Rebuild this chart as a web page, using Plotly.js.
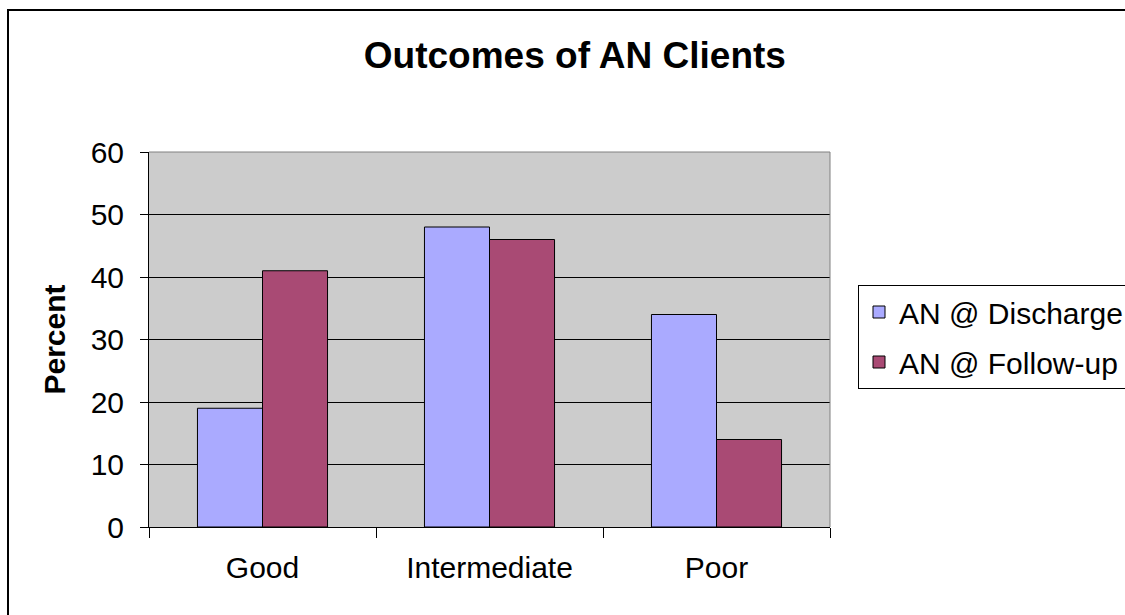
<!DOCTYPE html>
<html>
<head>
<meta charset="utf-8">
<script src="https://cdn.plot.ly/plotly-3.0.1.min.js"></script>
<style>
html, body { margin: 0; padding: 0; background: #ffffff; }
#chart { width: 1125px; height: 615px; }
</style>
</head>
<body>
<div id="chart"></div>
<script>
const categories = ["Good", "Intermediate", "Poor"];
const dischargeValues = [19, 48, 34];
const followupValues = [41, 46, 14];
const seriesNames = ["AN @ Discharge", "AN @ Follow-up"];
const yTickValues = [0, 10, 20, 30, 40, 50, 60];
const chartTitle = "Outcomes of AN Clients";
const yTitle = "Percent";

const FONT = "Liberation Sans, Arial, sans-serif";

const traces = [
  {
    type: "bar",
    name: seriesNames[0],
    x: categories,
    y: dischargeValues,
    legendgroup: "a",
    marker: { color: "#AAAAFF", line: { color: "#000000", width: 1 } },
    hoverinfo: "x+y+name"
  },
  {
    type: "bar",
    name: seriesNames[1],
    x: categories,
    y: followupValues,
    legendgroup: "b",
    marker: { color: "#A94A74", line: { color: "#000000", width: 1 } },
    hoverinfo: "x+y+name"
  }
];

const layout = {
  width: 1125,
  height: 615,
  margin: { l: 149, r: 295, t: 152, b: 88, autoexpand: false },
  paper_bgcolor: "#ffffff",
  plot_bgcolor: "#CCCCCC",
  font: { family: FONT, size: 30, color: "#000000" },
  barmode: "group",
  bargap: 0.427,
  bargroupgap: 0,
  title: {
    text: chartTitle,
    font: { family: FONT, size: 37, color: "#000000", weight: "bold" },
    xref: "container",
    yref: "container",
    x: 0.511,
    xanchor: "center",
    y: 1 - 55 / 615,
    yanchor: "middle"
  },
  xaxis: {
    type: "category",
    showline: true,
    linecolor: "#000000",
    linewidth: 1,
    ticks: "outside",
    tickson: "boundaries",
    ticklen: 10,
    tickcolor: "#000000",
    tickwidth: 1,
    ticklabelstandoff: 14,
    showgrid: false,
    zeroline: false,
    tickfont: { family: FONT, size: 30, color: "#000000" }
  },
  yaxis: {
    range: [0, 60],
    tickvals: yTickValues,
    ticktext: yTickValues.map(String),
    showline: true,
    linecolor: "#000000",
    linewidth: 1,
    ticks: "outside",
    ticklen: 8,
    tickcolor: "#000000",
    tickwidth: 1,
    ticklabelstandoff: 10,
    showgrid: true,
    gridcolor: "#000000",
    gridwidth: 1,
    zeroline: false,
    tickfont: { family: FONT, size: 30, color: "#000000" },
    title: {
      text: yTitle,
      font: { family: FONT, size: 30, color: "#000000", weight: "bold" },
      standoff: 16
    }
  },
  legend: {
    x: (858 - 149) / 681,
    xanchor: "left",
    y: (527 - 285) / 375,
    yanchor: "top",
    bgcolor: "#ffffff",
    bordercolor: "#000000",
    borderwidth: 1,
    traceorder: "grouped",
    tracegroupgap: 8,
    font: { family: FONT, size: 30, color: "#000000" }
  },
  shapes: [
    {
      type: "path",
      xref: "paper",
      yref: "paper",
      path: "M 0 1 L 1 1 L 1 0",
      line: { color: "#808080", width: 1 },
      layer: "above"
    },
    {
      type: "path",
      xref: "paper",
      yref: "paper",
      path: "M " + ((8 - 149) / 681) + " -1 L " + ((8 - 149) / 681) + " " + ((527 - 10) / 375) + " L 2 " + ((527 - 10) / 375),
      line: { color: "#000000", width: 2 },
      layer: "above"
    }
  ],
  showlegend: true
};

Plotly.newPlot("chart", traces, layout, { displayModeBar: false, responsive: false });
</script>
</body>
</html>
